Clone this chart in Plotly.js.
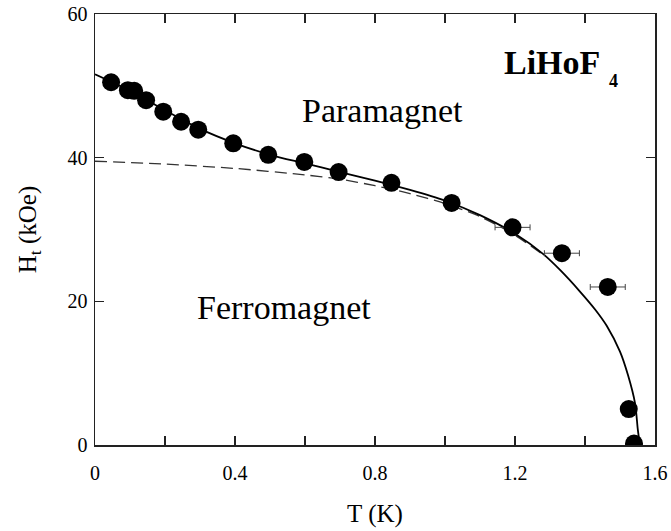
<!DOCTYPE html>
<html><head><meta charset="utf-8">
<script src="https://cdn.plot.ly/plotly-3.0.1.min.js"></script>
<style>body{margin:0;background:#fff}#c{width:671px;height:531px}</style>
</head><body><div id="c"></div>
<script>
// Measured data points
const T_pts = [0.046,0.094,0.112,0.146,0.195,0.246,0.295,0.395,0.495,0.598,0.696,0.847,1.019,1.193,1.334,1.465,1.525,1.540];
const H_pts = [50.5,49.4,49.3,48.0,46.4,45.0,43.9,42.0,40.4,39.4,38.0,36.5,33.7,30.3,26.7,22.0,5.0,0.2];
const T_err = [0,0,0,0,0,0,0,0,0,0,0,0,0,0.05,0.05,0.05,0,0];
// Solid theory curve
const T_solid = [0,0.1,0.2,0.3,0.4,0.5,0.6,0.7,0.8,0.9,1.0,1.1,1.2,1.28,1.33,1.385,1.43,1.462,1.5,1.523,1.543,1.551,1.557];
const H_solid = [51.6,49.3,46.6,44.0,42.0,40.4,39.2,38.0,36.8,35.5,34.0,32.0,29.4,26.6,24.3,21.4,18.8,16.6,13.0,9.7,5.8,2.1,0];
// Dashed curve
const T_dash = [0,0.2,0.4,0.6,0.7,0.8,0.9,1.0,1.1,1.2,1.28];
const H_dash = [39.5,39.1,38.5,37.6,37.0,36.1,35.0,33.6,31.8,29.2,26.5];
const xTicks = [0,0.2,0.4,0.6,0.8,1.0,1.2,1.4,1.6];
const xTickText = ['0','','0.4','','0.8','','1.2','','1.6'];
const yTicks = [0,20,40,60];

const font = 'Liberation Serif, Times New Roman, serif';
const traces = [
 {x:T_dash,y:H_dash,mode:'lines',line:{color:'#333',width:1.3,dash:'12px,6px',shape:'spline',smoothing:0.8},hoverinfo:'skip'},
 {x:T_solid,y:H_solid,mode:'lines',line:{color:'#000',width:1.8,shape:'spline',smoothing:0.8},hoverinfo:'skip'},
 {x:T_pts,y:H_pts,mode:'markers',marker:{color:'#000',size:18},
  error_x:{type:'data',array:T_err,visible:true,color:'#444',thickness:1,width:3}}
];
const axisCommon = {showline:true,linecolor:'#222',linewidth:1.5,mirror:'ticks',ticks:'inside',ticklen:9,tickwidth:1.2,tickcolor:'#222',showgrid:false,zeroline:false,tickfont:{family:font,size:20,color:'#000'}};
const layout = {
 width:671,height:531,margin:{l:95,r:16,t:14,b:86},
 paper_bgcolor:'#fff',plot_bgcolor:'#fff',showlegend:false,
 xaxis:Object.assign({},axisCommon,{range:[0,1.6],tickvals:xTicks,ticktext:xTickText,ticklabelstandoff:9,
   title:{text:'T (K)',font:{family:font,size:25,color:'#000'},standoff:22}}),
 yaxis:Object.assign({},axisCommon,{range:[0,60],tickvals:yTicks,ticklabelstandoff:2,
   title:{text:'H<sub>t</sub> (kOe)',font:{family:font,size:25,color:'#000'},standoff:24}}),
 annotations:[
  {x:0.82,y:46.6,xref:'x',yref:'y',text:'Paramagnet',showarrow:false,font:{family:font,size:34,color:'#000'}},
  {x:0.539,y:19.1,xref:'x',yref:'y',text:'Ferromagnet',showarrow:false,font:{family:font,size:34,color:'#000'}},
  {x:1.164,y:53.2,xref:'x',yref:'y',xanchor:'left',text:'<b>LiHoF</b>',showarrow:false,font:{family:font,size:34,color:'#000'}},
  {x:1.462,y:50.7,xref:'x',yref:'y',xanchor:'left',text:'<b>4</b>',showarrow:false,font:{family:font,size:18,color:'#000'}}
 ]
};
Plotly.newPlot('c',traces,layout,{staticPlot:true});
</script></body></html>
